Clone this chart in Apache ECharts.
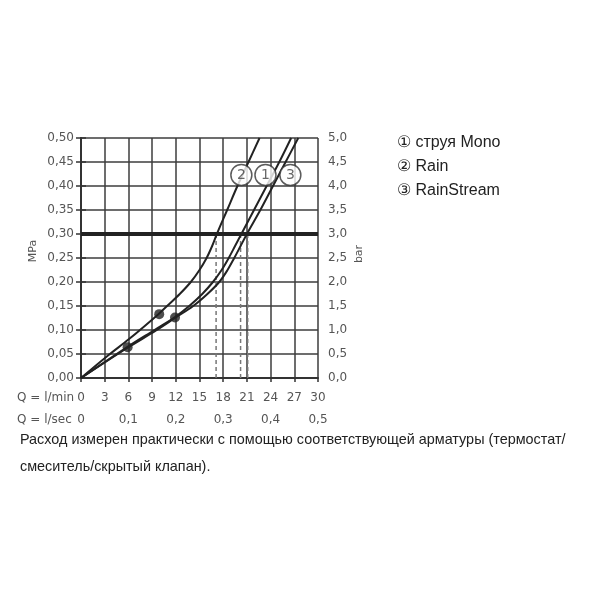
<!DOCTYPE html>
<html>
<head>
<meta charset="utf-8">
<script src="https://cdn.jsdelivr.net/npm/echarts@6/dist/echarts.min.js"></script>
<style>html,body{margin:0;padding:0;background:#fff;}#c{width:600px;height:600px;}</style>
</head>
<body>
<div id="c"></div>
<script>
// Flow Q (l/min) vs pressure (MPa)
const rainCurve = [[0,0],[3.5,0.048],[6,0.08],[9.8,0.133],[10.9,0.15],[12.5,0.175],[13.9,0.20],[15.0,0.225],[15.9,0.25],[16.6,0.275],[17.2,0.30],[18.5,0.35],[19.8,0.40],[21.2,0.45],[22.6,0.50]];
const monoCurve = [[0,0],[5.9,0.065],[9.4,0.101],[11.9,0.127],[13.7,0.15],[15.35,0.175],[16.7,0.20],[17.8,0.225],[18.7,0.25],[19.5,0.275],[20.3,0.30],[21.9,0.35],[23.5,0.40],[25.1,0.45],[26.6,0.50]];
const rainStreamCurve = [[0,0],[5.9,0.063],[9.5,0.099],[11.9,0.125],[14.2,0.15],[16.0,0.175],[17.5,0.20],[18.55,0.225],[19.4,0.25],[20.2,0.275],[21.0,0.30],[22.7,0.35],[24.3,0.40],[25.9,0.45],[27.5,0.50]];
const dots = [[9.9,0.133],[5.9,0.064],[11.9,0.126]];
const dashX = [17.1, 20.2, 21.1];
const limitPressure = 0.30;
const curveTags = [[20.3,0.423,'2'],[23.35,0.423,'1'],[26.5,0.423,'3']];
const legendItems = ['① струя Mono','② Rain','③ RainStream'];
const noteLines = ['Расход измерен практически с помощью соответствующей арматуры (термостат/','смеситель/скрытый клапан).'];

const lab = {fontFamily:'DejaVu Sans', fontSize:12, color:'#555'};
const dashSeries = dashX.map(x => ({
  type:'line', data:[[x,0],[x,limitPressure]], symbol:'none', silent:true,
  lineStyle:{color:'#777', width:1.5, type:[4,3]}, z:1
}));

const chart = echarts.init(document.getElementById('c'), null, {renderer:'canvas'});
chart.setOption({
  animation:false,
  backgroundColor:'#fff',
  grid:{left:81, right:282, top:138, bottom:222},
  xAxis:[
    {type:'value', min:0, max:30, interval:3, position:'bottom',
     axisLine:{show:true, onZero:false, lineStyle:{color:'#333', width:2}},
     axisTick:{show:true, length:4, lineStyle:{color:'#333', width:1.5}},
     axisLabel:Object.assign({margin:14, formatter:v=>String(v)}, lab),
     splitLine:{show:true, lineStyle:{color:'#3c3c3c', width:1.5}}},
    {type:'value', min:0, max:0.5, interval:0.1, position:'bottom', offset:24,
     axisLine:{show:false}, axisTick:{show:false}, splitLine:{show:false},
     axisLabel:Object.assign({margin:12, formatter:v=> v===0?'0':v.toFixed(1).replace('.',',')}, lab)}
  ],
  yAxis:[
    {type:'value', min:0, max:0.5, interval:0.05, position:'left',
     axisLine:{show:true, lineStyle:{color:'#333', width:2}},
     axisTick:{show:true, length:5, lineStyle:{color:'#333', width:1.5}},
     axisLabel:Object.assign({margin:7, formatter:v=>v.toFixed(2).replace('.',',')}, lab),
     splitLine:{show:true, lineStyle:{color:'#3c3c3c', width:1.5}},
     name:'MPa', nameLocation:'middle', nameGap:42, nameRotate:90,
     nameTextStyle:{fontFamily:'DejaVu Sans', fontSize:11, color:'#555', padding:[0,0,0,14]}},
    {type:'value', min:0, max:5, interval:0.5, position:'right',
     axisLine:{show:true, lineStyle:{color:'#333', width:2}},
     axisTick:{show:true, length:5, lineStyle:{color:'#333', width:1.5}},
     axisLabel:Object.assign({margin:10, formatter:v=>v.toFixed(1).replace('.',',')}, lab),
     splitLine:{show:false},
     name:'bar', nameLocation:'middle', nameGap:36, nameRotate:90,
     nameTextStyle:{fontFamily:'DejaVu Sans', fontSize:11, color:'#555', padding:[0,0,0,8]}}
  ],
  graphic:[
    {type:'text', left:17, top:392, style:{text:'Q = l/min', fontFamily:'DejaVu Sans', fontSize:12, fill:'#555'}},
    {type:'text', left:17, top:414, style:{text:'Q = l/sec', fontFamily:'DejaVu Sans', fontSize:12, fill:'#555'}},
    ...legendItems.map((t,i)=>({type:'text', left:397, top:135+i*24, style:{text:t, fontFamily:'Liberation Sans', fontSize:16, fill:'#222'}})),
    ...noteLines.map((t,i)=>({type:'text', left:20, top:433+i*27, style:{text:t, fontFamily:'Liberation Sans', fontSize:14.4, fill:'#222'}}))
  ],
  series:[
    ...dashSeries,
    {type:'line', data:rainCurve, smooth:0.35, symbol:'none', lineStyle:{color:'#222', width:2}, z:3,
     markLine:{silent:true, symbol:'none', label:{show:false}, lineStyle:{color:'#222', width:4, type:'solid'}, data:[{yAxis:limitPressure}]}},
    {type:'line', data:monoCurve, smooth:0.35, symbol:'none', lineStyle:{color:'#222', width:2}, z:3},
    {type:'line', data:rainStreamCurve, smooth:0.35, symbol:'none', lineStyle:{color:'#222', width:2}, z:3},
    {type:'scatter', data:dots, symbol:'circle', symbolSize:10, itemStyle:{color:'#222'}, z:4},
    {type:'scatter', data:curveTags.map(d=>[d[0],d[1],d[2]]), symbol:'circle', symbolSize:21,
     itemStyle:{color:'#fff', borderColor:'#333', borderWidth:1.5}, z:5,
     label:{show:true, position:'inside', formatter:p=>p.data[2], fontFamily:'DejaVu Sans', fontSize:14, color:'#444'}}
  ]
});
</script>
</body>
</html>
